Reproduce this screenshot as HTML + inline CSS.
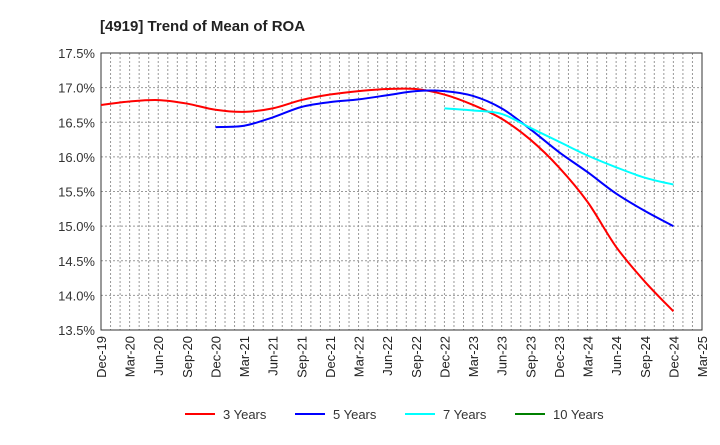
<!DOCTYPE html>
<html><head><meta charset="utf-8"><style>
body{margin:0;background:#fff;font-family:"Liberation Sans",sans-serif}
text{font-family:"Liberation Sans",sans-serif}
</style></head><body>
<svg id="c" width="720" height="440">
<text x="100" y="31" font-size="15" font-weight="bold" fill="#222">[4919]  Trend of Mean of ROA</text>
<g id="grid"></g><g id="axes"></g><g id="series"></g><g id="legend"></g>
</svg>
<script>
const xLabels=["Dec-19","Mar-20","Jun-20","Sep-20","Dec-20","Mar-21","Jun-21","Sep-21","Dec-21","Mar-22","Jun-22","Sep-22","Dec-22","Mar-23","Jun-23","Sep-23","Dec-23","Mar-24","Jun-24","Sep-24","Dec-24","Mar-25"];
const yTicks=[13.5,14.0,14.5,15.0,15.5,16.0,16.5,17.0,17.5];
const s3=[16.75,16.80,16.82,16.77,16.68,16.65,16.70,16.82,16.90,16.95,16.98,16.98,16.90,16.75,16.55,16.25,15.85,15.35,14.70,14.20,13.77];
const s5=[16.43,16.45,16.57,16.72,16.79,16.83,16.89,16.95,16.95,16.88,16.70,16.40,16.07,15.78,15.47,15.22,15.00];
const s7=[16.70,16.67,16.62,16.42,16.22,16.02,15.85,15.70,15.60];
const s10=[];
const series=[{n:"3 Years",c:"#ff0000",d:s3,s:0},{n:"5 Years",c:"#0000ff",d:s5,s:4},{n:"7 Years",c:"#00ffff",d:s7,s:12},{n:"10 Years",c:"#008000",d:s10,s:20}];
const L=101,R=702,T=53,B=330,NS="http://www.w3.org/2000/svg";
const xm=i=>L+i*3*(R-L)/63, y=v=>B-(v-13.5)/4*(B-T);
function mk(p,t,a){const e=document.createElementNS(NS,t);for(const k in a)e.setAttribute(k,a[k]);document.getElementById(p).appendChild(e);return e;}
for(let m=1;m<63;m++){const g=mk('grid','line',{x1:L+m*(R-L)/63,x2:L+m*(R-L)/63,y1:T,y2:B,stroke:'#999','stroke-dasharray':'2,2','stroke-width':1});
}
yTicks.forEach(v=>{const g=mk('grid','line',{x1:L,x2:R,y1:y(v),y2:y(v),stroke:'#999','stroke-dasharray':'2,2'});

const t=mk('axes','text',{x:L-6,y:y(v)+5,'text-anchor':'end','font-size':13,fill:'#333'});t.textContent=v.toFixed(1)+'%';
});
const fr=mk('axes','rect',{x:L,y:T,width:R-L,height:B-T,fill:'none',stroke:'#333'});

xLabels.forEach((l,i)=>{const x=xm(i);const t=mk('axes','text',{transform:`translate(${x+5},${B+6}) rotate(-90)`,'text-anchor':'end','font-size':13,fill:'#222'});t.textContent=l;
});
function path(pts){if(!pts.length)return'';let d=`M${pts[0][0]},${pts[0][1]}`;for(let i=0;i<pts.length-1;i++){const p0=pts[i-1]||pts[i],p1=pts[i],p2=pts[i+1],p3=pts[i+2]||p2;
d+=` C${p1[0]+(p2[0]-p0[0])/6},${p1[1]+(p2[1]-p0[1])/6} ${p2[0]-(p3[0]-p1[0])/6},${p2[1]-(p3[1]-p1[1])/6} ${p2[0]},${p2[1]}`;}return d;}
series.forEach((s,k)=>{const pts=s.d.map((v,i)=>[xm(s.s+i),y(v)]);
const p=mk('series','path',{d:path(pts),fill:'none',stroke:s.c,'stroke-width':2});

const lx=185+k*110;const ll=mk('legend','line',{x1:lx,x2:lx+30,y1:414,y2:414,stroke:s.c,'stroke-width':2});

const lt=mk('legend','text',{x:lx+38,y:419,'font-size':13,fill:'#333'});lt.textContent=s.n;
});
</script>
</body></html>
